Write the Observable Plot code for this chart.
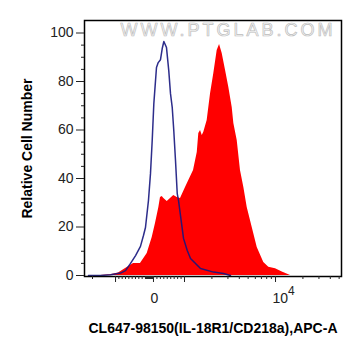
<!DOCTYPE html>
<html>
<head>
<meta charset="utf-8">
<script src="https://cdn.jsdelivr.net/npm/d3@7"></script>
<script src="https://cdn.jsdelivr.net/npm/@observablehq/plot@0.6"></script>
<style>
  html, body { margin: 0; padding: 0; background: white; }
</style>
</head>
<body>
<div id="chart"></div>
<script>
// Display-channel position (biexponential axis: 10^3 -> 3, 10^4 -> 4) and relative cell number
const controlU = [1.945, 2.077, 2.187, 2.297, 2.352, 2.407, 2.462, 2.516, 2.549, 2.571, 2.604, 2.626, 2.645, 2.663, 2.692, 2.711, 2.736, 2.755, 2.773, 2.802, 2.827, 2.846, 2.865, 2.882, 2.901, 2.920, 2.934, 2.956, 2.989, 3.030, 3.066, 3.176, 3.319, 3.429, 3.505];
const controlV = [0, 0, 0.3, 1.0, 2.0, 5.0, 8.2, 12, 16.5, 19.8, 31, 42, 55.7, 71, 85.8, 87.8, 89, 93.6, 96.5, 94, 84.5, 75, 69.3, 59.8, 47.4, 33.8, 31, 24.7, 15.3, 10.3, 7, 2.9, 1.4, 0.8, 0];

const sampleU = [2.077, 2.187, 2.275, 2.352, 2.440, 2.516, 2.590, 2.645, 2.681, 2.718, 2.736, 2.755, 2.773, 2.810, 2.846, 2.882, 2.920, 2.956, 3.011, 3.047, 3.099, 3.140, 3.157, 3.176, 3.195, 3.212, 3.249, 3.286, 3.322, 3.359, 3.385, 3.414, 3.451, 3.487, 3.524, 3.542, 3.579, 3.615, 3.652, 3.689, 3.744, 3.799, 3.871, 3.926, 4.000, 4.074, 4.165];
const sampleV = [0, 0.3, 1.0, 2.9, 4.9, 5.0, 9.1, 15.7, 21.4, 28, 32.2, 32.6, 31.8, 30.5, 31.8, 33, 32.2, 31.8, 36.3, 39.2, 43.3, 50.7, 58.6, 59.8, 57.7, 59.1, 63.9, 75, 83.3, 92.8, 95.3, 91.5, 84.5, 77.5, 69.3, 62.7, 55.7, 43.3, 36.3, 28, 19.8, 11.5, 5.4, 3.4, 2.8, 1.4, 0];

// Axis ticks
const yMajor = [0, 20, 40, 60, 80, 100];
const yMinor = [5, 10, 15, 25, 30, 35, 45, 50, 55, 65, 70, 75, 85, 90, 95];
const xMajor = [2.242, 2.659, 3, 4];
const xLabelPos = [2.659, 4];
const xLabelText = ["0", "10⁴"];
const xMinor = [
  1.989,
  ...d3.range(1, 9).map(k => 2.242 + k * (2.571 - 2.242) / 9),
  ...d3.range(0, 8).map(k => 2.571 + k * 0.011),
  ...d3.range(1, 9).map(k => 2.659 + k * (3 - 2.659) / 9),
  ...d3.range(2, 10).map(m => 3 + Math.log10(m)),
  ...d3.range(2, 6).map(m => 4 + Math.log10(m))
];

const yTitle = "Relative Cell Number";
const xTitle = "CL647-98150(IL-18R1/CD218a),APC-A";
const watermark = "WWW.PTGLAB.COM";

const control = controlU.map((u, i) => ({u, v: controlV[i]}));
const sample = sampleU.map((u, i) => ({u, v: sampleV[i]}));

const chart = Plot.plot({
  width: 361,
  height: 356,
  marginLeft: 84,
  marginRight: 20,
  marginTop: 20,
  marginBottom: 80,
  style: {fontFamily: "'Liberation Sans', Arial, sans-serif", fontSize: "14px", color: "#222", background: "white"},
  x: {type: "linear", domain: [1.901, 4.725]},
  y: {domain: [-0.412, 105.16]},
  marks: [
    Plot.text([watermark], {frameAnchor: "top-left", text: d => d, dx: 36, dy: 3, textAnchor: "start", lineAnchor: "top", fontSize: 18, fill: "#f7f7f7", stroke: "#bcbcbc", strokeWidth: 0.7}),
    Plot.areaY(sample, {x: "u", y: "v", fill: "#ff0000"}),
    Plot.lineY(control, {x: "u", y: "v", stroke: "#16167e", strokeWidth: 1.5, strokeOpacity: 0.9}),
    Plot.frame({stroke: "black", strokeWidth: 1.5}),
    Plot.axisY({ticks: yMajor, tickSize: 8, tickPadding: 3, label: null, fontSize: 14}),
    Plot.axisY({ticks: yMinor, tickSize: 3, tickFormat: () => "", label: null}),
    Plot.axisX({ticks: xMajor, tickSize: 6, tickPadding: 11, label: null, fontSize: 14,
      tickFormat: d => { const i = xLabelPos.indexOf(d); return i >= 0 ? xLabelText[i] : ""; }}),
    Plot.axisX({ticks: xMinor, tickSize: 3, tickFormat: () => "", label: null}),
    Plot.text([yTitle], {frameAnchor: "left", text: d => d, dx: -57, rotate: -90, textAnchor: "middle", lineAnchor: "middle", fontWeight: "bold", fontSize: 14, fill: "black"}),
    Plot.text([xTitle], {frameAnchor: "bottom", text: d => d, dy: 52, textAnchor: "middle", lineAnchor: "middle", fontWeight: "bold", fontSize: 14, fill: "black"})
  ]
});

const ns = "http://www.w3.org/2000/svg";
chart.querySelectorAll("text").forEach(t => {
  if (t.textContent === "10⁴") {
    t.textContent = "10";
    t.setAttribute("text-anchor", "start");
    t.setAttribute("dx", "-3");
    const ts = document.createElementNS(ns, "tspan");
    ts.setAttribute("dy", "-0.7em");
    ts.setAttribute("font-size", "12");
    ts.textContent = "4";
    t.appendChild(ts);
  } else if (t.textContent === "0" && t.closest("[aria-label='x-axis tick label']")) {
    t.setAttribute("dx", "1");
  } else if (t.textContent === watermark) {
    t.style.letterSpacing = "3px";
    t.setAttribute("paint-order", "normal");
  }
});
document.getElementById("chart").appendChild(chart);
</script>
</body>
</html>
